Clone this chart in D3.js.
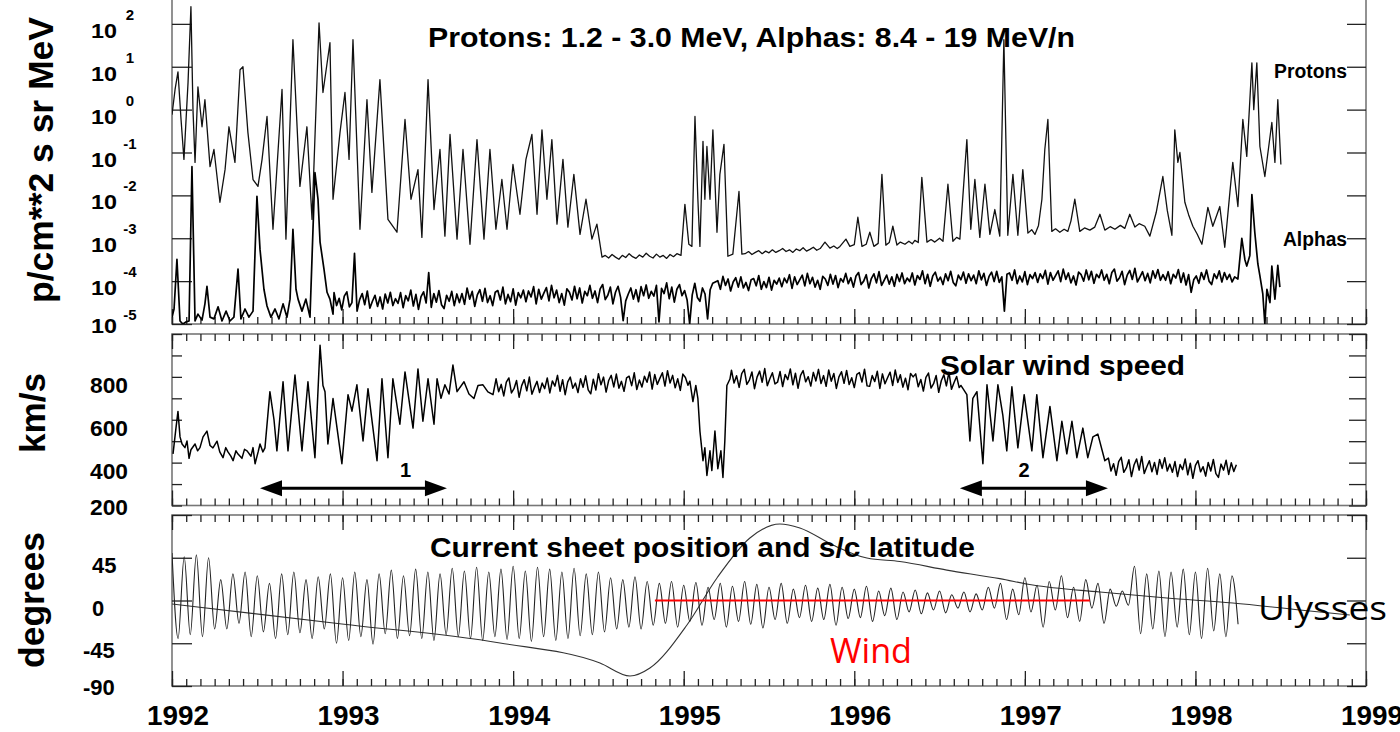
<!DOCTYPE html>
<html><head><meta charset="utf-8">
<script src="https://cdn.jsdelivr.net/npm/d3@7"></script>
<style>html,body{margin:0;padding:0;background:#fff;overflow:hidden}svg{display:block}</style>
</head><body><svg id="c" width="1400" height="732"></svg>
<script>
// ---------------- DATA ----------------
const years = [1992,1993,1994,1995,1996,1997,1998,1999];
const decades = [-5,-4,-3,-2,-1,0,1,2,3];
const decadeLabels = [-5,-4,-3,-2,-1,0,1,2];
const speedTicks = [200,300,400,500,600,700,800,900,1000];
const speedLabels = [200,400,600,800];
const degTicks = [-90,-45,0,45,90];
const degLabels = [-90,-45,0,45];

// Protons 1.2-3.0 MeV: [decimal year, log10 flux]
const protons = [[1992.000,-0.12],[1992.018,0.47],[1992.035,0.88],[1992.053,-0.23],[1992.070,-1.16],[1992.094,0.63],[1992.111,2.40],[1992.123,0.0],[1992.135,-1.23],[1992.152,0.53],[1992.176,-0.40],[1992.193,0.23],[1992.223,-1.33],[1992.246,-0.93],[1992.281,-2.16],[1992.311,-1.40],[1992.334,-0.40],[1992.369,-1.23],[1992.399,0.93],[1992.416,1.0],[1992.445,-0.53],[1992.475,-1.63],[1992.504,-1.79],[1992.528,-1.16],[1992.557,-0.16],[1992.592,-2.79],[1992.645,0.47],[1992.668,-3.02],[1992.709,1.63],[1992.750,-1.79],[1992.791,-0.40],[1992.821,-2.56],[1992.862,2.02],[1992.885,0.40],[1992.926,1.56],[1992.944,-2.09],[1992.985,-0.53],[1993.014,0.40],[1993.038,-1.16],[1993.061,1.63],[1993.102,-2.79],[1993.143,0.23],[1993.172,-1.93],[1993.219,0.70],[1993.266,-2.56],[1993.319,-2.86],[1993.366,-0.23],[1993.401,-2.09],[1993.442,-1.40],[1993.465,-2.98],[1993.501,0.70],[1993.536,-2.33],[1993.571,-0.93],[1993.600,-2.95],[1993.630,-0.58],[1993.671,-3.02],[1993.706,-0.93],[1993.747,-3.14],[1993.788,-0.70],[1993.829,-3.02],[1993.864,-0.93],[1993.899,-2.79],[1993.934,-1.63],[1993.964,-2.79],[1993.999,-1.28],[1994.040,-2.44],[1994.075,-1.16],[1994.110,-0.58],[1994.140,-2.44],[1994.169,-0.47],[1994.198,-2.09],[1994.227,-0.70],[1994.257,-2.67],[1994.292,-1.16],[1994.321,-2.74],[1994.356,-1.51],[1994.392,-2.91],[1994.427,-2.09],[1994.462,-3.02],[1994.491,-2.67],[1994.521,-3.44],
[1994.54,-3.40],[1994.56,-3.46],[1994.58,-3.38],[1994.60,-3.44],[1994.62,-3.49],[1994.64,-3.40],[1994.66,-3.45],[1994.68,-3.36],[1994.70,-3.43],[1994.72,-3.47],[1994.74,-3.39],[1994.76,-3.44],[1994.78,-3.35],[1994.80,-3.42],[1994.82,-3.46],[1994.84,-3.37],[1994.86,-3.44],[1994.88,-3.40],[1994.90,-3.47],[1994.92,-3.38],[1994.94,-3.43],[1994.96,-3.36],[1994.984,-3.40],
[1995.007,-2.21],[1995.030,-3.14],[1995.048,-3.19],[1995.066,-0.16],[1995.083,-2.09],[1995.095,-3.19],[1995.113,-0.74],[1995.124,-2.09],[1995.136,-0.86],[1995.154,-2.09],[1995.171,-0.47],[1995.195,-2.86],[1995.212,-1.51],[1995.236,-0.81],[1995.259,-3.42],[1995.288,-3.37],[1995.324,-1.91],[1995.341,-3.37],
[1995.36,-3.36],[1995.38,-3.31],[1995.40,-3.38],[1995.42,-3.33],[1995.44,-3.29],[1995.46,-3.36],[1995.48,-3.30],[1995.50,-3.34],[1995.52,-3.27],[1995.54,-3.33],[1995.56,-3.29],[1995.58,-3.24],[1995.60,-3.31],[1995.62,-3.27],[1995.64,-3.33],[1995.66,-3.25],[1995.68,-3.29],[1995.70,-3.22],[1995.72,-3.30],[1995.74,-3.26],[1995.76,-3.21],[1995.78,-3.28],[1995.80,-3.24],
[1995.828,-3.09],[1995.857,-3.23],[1995.88,-3.18],[1995.90,-3.24],[1995.916,-3.19],[1995.951,-3.02],[1995.974,-3.19],[1996.00,-3.15],[1996.021,-2.51],[1996.045,-3.19],[1996.07,-3.14],[1996.091,-2.86],[1996.115,-3.19],[1996.14,-3.12],[1996.162,-1.51],[1996.185,-3.16],[1996.205,-3.10],[1996.226,-2.72],[1996.250,-3.16],[1996.27,-3.09],[1996.297,-3.14],[1996.32,-3.07],[1996.34,-3.13],[1996.355,-3.05],[1996.375,-3.10],[1996.396,-1.58],[1996.426,-3.09],[1996.45,-3.03],[1996.472,-3.09],[1996.50,-3.00],[1996.52,-3.07],[1996.549,-1.74],[1996.578,-3.07],[1996.60,-2.98],[1996.619,-3.02],
[1996.660,-0.70],[1996.683,-2.79],[1996.707,-1.63],[1996.736,-2.98],[1996.766,-1.74],[1996.795,-2.91],[1996.824,-2.33],[1996.853,-2.95],[1996.877,1.63],[1996.900,-2.93],[1996.930,-1.51],[1996.959,-2.93],[1996.988,-1.40],[1997.018,-2.88],[1997.04,-2.80],[1997.059,-2.91],[1997.080,-2.70],[1997.100,-2.09],[1997.117,-0.93],[1997.135,-0.23],[1997.158,-2.84],[1997.18,-2.78],[1997.205,-2.86],[1997.23,-2.79],[1997.252,-2.84],[1997.27,-2.60],[1997.293,-2.09],[1997.322,-2.84],[1997.35,-2.76],[1997.381,-2.81],[1997.41,-2.74],[1997.440,-2.44],[1997.469,-2.81],[1997.50,-2.73],[1997.528,-2.79],[1997.56,-2.70],[1997.586,-2.77],[1997.615,-2.44],[1997.645,-2.74],[1997.67,-2.66],[1997.703,-2.72],[1997.733,-2.95],[1997.77,-2.40],[1997.809,-1.56],[1997.835,-2.35],[1997.862,-2.93],[1997.879,-0.47],[1997.897,-1.23],[1997.909,-1.0],[1997.938,-2.16],[1997.96,-2.45],[1997.985,-2.72],[1998.01,-2.90],[1998.038,-3.14],[1998.073,-2.28],[1998.102,-2.72],[1998.143,-2.26],[1998.172,-3.21],[1998.202,-1.93],[1998.219,-1.23],[1998.249,-2.26],[1998.278,-0.23],[1998.301,-1.09],[1998.331,1.09],[1998.342,0.0],[1998.360,1.09],[1998.378,-0.86],[1998.407,-1.56],[1998.448,-0.30],[1998.466,-1.23],[1998.483,0.23],[1998.501,-1.28]];

// Alphas 8.4-19 MeV/n, early part: [decimal year, log10 flux]
const alphaEarly = [[1992.000,-4.84],[1992.012,-4.65],[1992.029,-3.49],[1992.047,-4.93],[1992.064,-5.0],[1992.082,-4.95],[1992.100,-4.93],[1992.117,-1.33],[1992.135,-4.93],[1992.152,-4.77],[1992.176,-4.91],[1992.193,-4.53],[1992.205,-4.12],[1992.223,-4.84],[1992.246,-4.88],[1992.270,-4.60],[1992.293,-4.93],[1992.317,-4.70],[1992.340,-4.93],[1992.363,-4.84],[1992.387,-3.72],[1992.404,-4.88],[1992.428,-4.65],[1992.451,-4.84],[1992.475,-4.70],[1992.498,-2.02],[1992.516,-3.26],[1992.539,-4.19],[1992.557,-4.58],[1992.580,-4.84],[1992.604,-4.65],[1992.627,-4.88],[1992.651,-4.53],[1992.674,-4.84],[1992.692,-4.42],[1992.709,-2.79],[1992.727,-4.19],[1992.739,-4.42],[1992.762,-4.70],[1992.785,-4.42],[1992.809,-4.84],[1992.838,-1.47],[1992.856,-2.09],[1992.868,-3.09],[1992.891,-3.72],[1992.909,-4.26],[1992.926,-4.42],[1992.944,-4.77]];
// Alphas, regularly sampled from 1992.95 every 0.015 yr (log10 flux)
const alphaStart = 1992.95, alphaStep = 0.015;
const alphaBand = [
-4.27,-4.57,-4.40,-4.67,-4.35,-4.25,-4.60,-4.50,-3.35,-4.70,-4.43,-4.29,-4.55,-4.23,-4.63,-4.47,-4.33,-4.59,-4.37,-4.65,-4.30,-4.51,-4.26,-4.57,-4.41,
-4.52,-4.27,-4.62,-4.34,-4.46,-4.21,-4.58,-4.31,-4.66,-4.36,-4.25,-4.51,-3.80,-4.61,-4.29,-4.49,-4.22,-4.55,-4.64,-4.33,-4.47,-4.24,-4.57,-4.30,-4.50,
-4.29,-4.54,-4.16,-4.42,-4.24,-4.59,-4.32,-4.20,-4.47,-4.17,-4.50,-4.34,-4.57,-4.26,-4.22,-4.44,-4.14,-4.53,-4.31,-4.48,-4.18,-4.56,-4.27,-4.39,-4.21,
-4.48,-4.23,-4.37,-4.13,-4.53,-4.19,-4.42,-4.28,-4.15,-4.46,-4.10,-4.39,-4.21,-4.50,-4.29,-4.56,-4.18,-4.26,-4.44,-4.12,-4.41,-4.16,-4.51,-4.24,-4.34,
-4.10,-4.40,-4.23,-4.50,-4.18,-4.08,-4.43,-4.33,-4.14,-4.53,-4.26,-4.12,-4.38,-4.92,-4.46,-4.30,-4.16,-4.42,-4.20,-4.48,-4.13,-4.34,-4.09,-4.40,-4.24,
-4.35,-4.10,-4.95,-4.17,-4.29,-4.04,-4.41,-4.14,-4.49,-4.19,-4.08,-4.34,-4.22,-4.44,-5.00,-4.32,-4.05,-4.38,-4.47,-4.16,-4.30,-4.88,-4.20,-4.05,-4.02,
-3.99,-4.19,-3.89,-4.10,-3.95,-4.23,-4.02,-3.92,-4.14,-3.90,-4.16,-4.03,-4.22,-3.97,-3.94,-4.11,-3.87,-4.19,-4.01,-4.15,-3.91,-4.21,-3.98,-4.07,-3.93,
-4.13,-3.93,-4.04,-3.85,-4.17,-3.90,-4.08,-3.97,-3.86,-4.11,-3.82,-4.06,-3.91,-4.14,-3.98,-4.19,-3.89,-3.95,-4.10,-3.84,-4.07,-3.87,-4.15,-3.94,-4.02,
-3.82,-4.06,-3.92,-4.14,-3.88,-3.80,-4.08,-4.00,-3.85,-4.16,-3.94,-3.83,-4.04,-3.78,-4.10,-3.98,-3.86,-4.07,-3.90,-4.12,-3.84,-4.01,-3.81,-4.06,-3.93,
-4.01,-3.81,-4.09,-3.87,-3.96,-3.76,-4.06,-3.84,-4.12,-3.88,-3.79,-4.00,-3.91,-4.08,-3.83,-3.99,-3.77,-4.03,-4.11,-3.86,-3.97,-3.79,-4.05,-3.83,-3.99,
-3.86,-4.06,-3.76,-3.97,-3.82,-4.10,-3.89,-3.79,-4.01,-3.77,-4.03,-3.90,-4.70,-3.84,-3.81,-3.98,-3.74,-4.06,-3.88,-4.02,-3.78,-4.08,-3.85,-3.94,-3.80,
-4.03,-3.83,-3.94,-3.75,-4.07,-3.80,-3.98,-3.87,-3.76,-4.01,-3.72,-3.96,-3.81,-4.04,-3.88,-4.09,-3.79,-3.85,-4.00,-3.74,-3.97,-3.77,-4.05,-3.84,-3.92,
-3.74,-3.98,-3.84,-4.06,-3.80,-3.72,-4.00,-3.92,-3.77,-4.08,-3.86,-3.75,-3.96,-3.70,-4.02,-3.90,-3.78,-3.99,-3.82,-4.04,-3.76,-3.93,-3.73,-3.98,-3.85,
-3.98,-3.78,-4.06,-3.84,-3.93,-3.73,-4.03,-3.81,-4.09,-3.85,-4.26,-3.97,-3.88,-4.05,-3.80,-3.96,-3.74,-4.00,-4.08,-3.83,-3.94,-3.76,-4.02,-3.80,-3.96,
-3.84,-4.02,-3.90];
// Alphas, 1998 event: [decimal year, log10 flux]
const alphaLate = [[1998.249,-3.95],[1998.272,-3.0],[1998.290,-3.5],[1998.301,-3.65],[1998.319,-3.4],[1998.331,-1.98],[1998.348,-2.86],[1998.366,-3.6],[1998.378,-3.88],[1998.395,-4.3],[1998.407,-5.0],[1998.419,-4.19],[1998.437,-4.5],[1998.448,-3.65],[1998.466,-4.42],[1998.483,-3.63],[1998.495,-4.14]];

// Solar wind speed (km/s)
const swEarly = [[1992.006,441],[1992.023,560],[1992.035,639],[1992.047,520],[1992.059,487],[1992.076,470],[1992.088,501],[1992.100,420],[1992.111,460],[1992.135,487],[1992.150,455],[1992.164,470],[1992.182,520],[1992.205,547],[1992.223,480],[1992.240,469],[1992.264,500],[1992.280,450],[1992.299,423],[1992.315,470],[1992.328,450],[1992.345,430],[1992.358,409],[1992.375,455],[1992.387,440],[1992.410,420],[1992.425,462],[1992.440,455],[1992.463,430],[1992.475,470],[1992.487,395],[1992.505,450],[1992.516,487],[1992.533,450],[1992.545,469],[1992.574,731],[1992.598,600],[1992.615,455],[1992.651,777],[1992.680,455],[1992.721,809],[1992.762,455],[1992.797,777],[1992.838,423],[1992.868,947],[1992.885,760],[1992.897,731],[1992.914,487],[1992.944,699],[1992.996,395],[1993.032,717],[1993.055,640],[1993.084,763],[1993.120,501],[1993.149,745],[1993.202,409],[1993.231,791],[1993.266,423],[1993.295,791],[1993.336,579],[1993.366,823],[1993.413,561],[1993.442,837],[1993.471,593],[1993.501,791],[1993.536,579],[1993.554,791],[1993.577,700],[1993.600,763],[1993.624,720],[1993.647,855],[1993.671,731],[1993.712,777],[1993.741,720],[1993.770,699],[1993.794,760],[1993.823,763],[1993.852,730],[1993.882,717]];
const swPlateauAStart = 1993.90, swPlateauAStep = 0.015;
const swPlateauA = [791,731,765,711,775,795,725,745,783,705,759,787,735,799,719,751,779,727,771,
745,795,725,781,757,807,733,787,717,777,799,747,771,727,791,751,805,739,721,
789,739,815,763,799,729,783,807,753,813,747,779,733,795,803,759,819,741,785,
753,803,775,823,743,811,765,793,819,757,829,771,807,749,791,737,813,797,761];
const swDip = [[1995.036,780],[1995.054,685],[1995.071,760],[1995.083,700],[1995.095,547],[1995.113,409],[1995.124,469],[1995.136,340],[1995.154,455],[1995.165,363],[1995.183,547],[1995.200,372],[1995.218,455],[1995.230,331],[1995.241,501],[1995.253,760],[1995.271,790]];
const swPlateauBStart = 1995.28, swPlateauBStep = 0.015;
const swPlateauB = [831,771,805,751,815,835,765,785,823,745,799,827,775,839,759,791,819,767,
775,825,755,811,787,837,763,817,747,807,829,777,801,757,821,781,835,769,
806,756,832,780,816,746,800,824,770,830,764,796,750,812,820,776,836,758,
756,806,778,826,746,814,768,796,822,760,832,774,810,752,794,740,816,800,
814,754,788,734,798,818,748,768,806,728,782,810,758,822,742,774,802,750];
const swLate = [[1996.625,760],[1996.660,717],[1996.678,501],[1996.695,700],[1996.719,731],[1996.754,395],[1996.778,763],[1996.813,501],[1996.842,763],[1996.871,620],[1996.894,455],[1996.924,754],[1996.959,469],[1996.996,717],[1997.041,455],[1997.070,717],[1997.106,423],[1997.147,662],[1997.188,409],[1997.217,593],[1997.246,441],[1997.276,593],[1997.305,423],[1997.340,561],[1997.369,423],[1997.399,520],[1997.428,533],[1997.469,409]];
const swTailStart = 1997.49, swTailStep = 0.015;
const swTail = [421,361,395,341,405,425,355,375,413,335,389,417,365,429,349,381,409,357,401,345,415,373,423,361,393,
355,405,335,391,367,417,343,397,327,387,409,357,381,337,401,361,415,349,331,393,365,411,345,399,359,
390];

// Current sheet position (deg), successive extremes every 1/28 yr from 1992.0
const csStart = 1992.0, csStep = 1/28;
const currentSheet = [
50,-40,46,-36,48,-38,45,-30,22,-30,28,-24,30,-38,26,-33,18,-40,28,-36,30,-34,22,-40,25,-30,28,-45,
24,-42,30,-38,22,-46,28,-35,32,-40,26,-37,33,-40,30,-42,28,-36,34,-38,31,-40,35,-42,30,-38,33,-41,
36,-40,31,-43,35,-38,33,-42,30,-40,34,-37,28,-36,30,-33,24,-30,22,-28,25,-30,20,-26,18,-24,20,-28,
16,-22,19,-26,14,-20,18,-28,15,-22,20,-25,17,-29,14,-20,18,-24,12,-18,16,-22,13,-20,17,-26,14,-19,
12,-18,15,-22,10,-16,13,-20,9,-12,11,-14,8,-10,10,-13,6,-8,9,-12,7,-10,14,-8,18,-20,12,-15,
24,-12,16,-28,20,-10,26,-18,14,-22,22,-8,18,-24,12,-6,10,-5,36,-35,28,-30,31,-38,30,-28,33,-36,
30,-40,34,-32,28,-38,26,-25];

// Ulysses heliographic latitude (deg)
const ulyssesLat = [[1992.000,-3.7],[1992.996,-24.7],[1993.923,-44.7],[1994.509,-65.8],[1994.685,-79.5],[1994.802,-71.1],[1995.019,-25.8],[1995.195,23.7],[1995.388,65.8],[1995.564,80.5],[1995.681,76.3],[1995.875,58.4],[1996.074,44.7],[1996.267,41.0],[1996.543,32.0],[1996.853,23.0],[1997.047,16.3],[1997.440,8.9],[1997.832,2.6],[1998.219,-2.6],[1998.612,-10.0],[1998.905,-15.3]];
// Wind latitude (deg)
const windLat = [[1994.831,0],[1997.381,0]];

// Recurrent-event intervals marked by arrows [start, end] and label year
const intervals = [[1992.516,1993.612],[1996.619,1997.487]];
const intervalLabels = [["1",1993.37],["2",1996.995]];
const intervalSpeed = 280;

// ---------------- DRAW ----------------
const svg = d3.select("#c");
const BOLD = "'Liberation Sans', Arial, Helvetica, sans-serif";
const REG = "'Open Sans', 'Noto Sans', sans-serif";
const x = d3.scaleLinear().domain([1992,1999]).range([172,1366]);
const yP = d3.scaleLog().domain([1e-5,1e3]).range([324,-19]);
const yV = d3.scaleLinear().domain([200,1000]).range([505.5,334]);
const yD = d3.scaleLinear().domain([-90,90]).range([686,515]);

const expand = (t0, dt, vals) => vals.map((v,i)=>[t0+i*dt, v]);
const months = d3.range(0, 7*12+1).map(i => 1992 + i/12);

const panels = [
  {id:"p1", top:-19, bottom:324},
  {id:"p2", top:334, bottom:505.5},
  {id:"p3", top:515, bottom:686}
];
const defs = svg.append("defs");
panels.forEach(p=>{
  defs.append("clipPath").attr("id","clip-"+p.id).append("rect")
    .attr("x",172).attr("y",p.top).attr("width",1194).attr("height",p.bottom-p.top);
});

// frames
panels.forEach(p=>{
  svg.append("rect").attr("x",172).attr("y",p.top).attr("width",1194).attr("height",p.bottom-p.top)
    .attr("fill","none").attr("stroke","#777").attr("stroke-width",1.6);
});

function styleAxis(g){
  g.select(".domain").remove();
  g.selectAll(".tick line").attr("stroke","#222").attr("stroke-width",1.3);
  g.selectAll(".tick text").remove();
}
// x ticks on every panel edge
panels.forEach(p=>{
  [[p.bottom, d3.axisBottom],[p.top, d3.axisTop]].forEach(([yy, ax])=>{
    svg.append("g").attr("transform",`translate(0,${yy})`)
      .call(ax(x).tickValues(months).tickSize(-7).tickFormat("")).call(styleAxis);
    svg.append("g").attr("transform",`translate(0,${yy})`)
      .call(ax(x).tickValues(years).tickSize(-15).tickFormat("")).call(styleAxis);
  });
});
// y ticks
function yTicks(scale, vals, lenL, lenR){
  svg.append("g").attr("transform","translate(172,0)")
    .call(d3.axisLeft(scale).tickValues(vals).tickSize(-lenL).tickFormat("")).call(styleAxis);
  svg.append("g").attr("transform","translate(1366,0)")
    .call(d3.axisRight(scale).tickValues(vals).tickSize(-lenR).tickFormat("")).call(styleAxis);
}
yTicks(yP, decades.map(d=>Math.pow(10,d)), 20, 19);
yTicks(yV, speedTicks, 10, 17);
yTicks(yD, degTicks, 20, 19);

// ---- panel 1 data
const g1 = svg.append("g").attr("clip-path","url(#clip-p1)");
const lineP = d3.line().x(d=>x(d[0])).y(d=>yP(Math.pow(10,d[1])));
const alphas = alphaEarly.concat(expand(alphaStart, alphaStep, alphaBand), alphaLate);
g1.append("path").datum(alphas).attr("d",lineP).attr("fill","none").attr("stroke","#000").attr("stroke-width",1.7).attr("stroke-linejoin","round");
g1.append("path").datum(protons).attr("d",lineP).attr("fill","none").attr("stroke","#111").attr("stroke-width",1.3).attr("stroke-linejoin","round");

// ---- panel 2 data
const g2 = svg.append("g").attr("clip-path","url(#clip-p2)");
const speed = swEarly.concat(expand(swPlateauAStart, swPlateauAStep, swPlateauA), swDip,
  expand(swPlateauBStart, swPlateauBStep, swPlateauB), swLate, expand(swTailStart, swTailStep, swTail));
g2.append("path").datum(speed).attr("d", d3.line().x(d=>x(d[0])).y(d=>yV(d[1])))
  .attr("fill","none").attr("stroke","#000").attr("stroke-width",1.5).attr("stroke-linejoin","round");

// arrows
intervals.forEach(([a,b])=>{
  const ya = yV(intervalSpeed), x0 = x(a), x1 = x(b), L = 22, h = 8;
  svg.append("line").attr("x1",x0+L-2).attr("x2",x1-L+2).attr("y1",ya).attr("y2",ya)
    .attr("stroke","#000").attr("stroke-width",3);
  svg.append("path").attr("d",`M${x0},${ya}L${x0+L},${ya-h}L${x0+L},${ya+h}Z`).attr("fill","#000");
  svg.append("path").attr("d",`M${x1},${ya}L${x1-L},${ya-h}L${x1-L},${ya+h}Z`).attr("fill","#000");
});
intervalLabels.forEach(([s,t])=>{
  svg.append("text").attr("x",x(t)).attr("y",yV(intervalSpeed)-11).attr("text-anchor","middle")
    .attr("font-family",BOLD).attr("font-weight","bold").attr("font-size",20).text(s);
});

// ---- panel 3 data
const g3 = svg.append("g").attr("clip-path","url(#clip-p3)");
g3.append("path").datum(ulyssesLat).attr("d", d3.line().x(d=>x(d[0])).y(d=>yD(d[1])).curve(d3.curveMonotoneX))
  .attr("fill","none").attr("stroke","#333").attr("stroke-width",1.1);
g3.append("path").datum(expand(csStart, csStep, currentSheet)).attr("d", d3.line().x(d=>x(d[0])).y(d=>yD(d[1])).curve(d3.curveMonotoneX))
  .attr("fill","none").attr("stroke","#222").attr("stroke-width",1.1);
g3.append("path").datum(windLat).attr("d", d3.line().x(d=>x(d[0])).y(d=>yD(d[1])))
  .attr("fill","none").attr("stroke","#ff0000").attr("stroke-width",2);

// ---- tick labels
const tl = (xx, yy, txt, size, anchor, tlen) => {
  const t = svg.append("text").attr("x",xx).attr("y",yy).attr("text-anchor",anchor||"start")
    .attr("font-family",BOLD).attr("font-weight","bold").attr("font-size",size).attr("fill","#000").text(txt);
  if (tlen) t.attr("textLength",tlen).attr("lengthAdjust","spacingAndGlyphs");
  return t;
};
decadeLabels.forEach(d=>{
  const yy = yP(Math.pow(10,d));
  tl(117, yy + (d===-5 ? 9 : 14), "10", 21, "end", 26);
  tl(130, yy - 4, String(d), 15, "middle");
});
speedLabels.forEach(v=>{
  const yy = yV(v);
  tl(128, yy + (v===200 ? 9 : 16), String(v), 22, "end", 38);
});
degLabels.forEach(v=>{
  const yy = yD(v);
  tl(v<0 ? 83 : 92, yy + (v===-90 ? 9 : 15), String(v), 22, "start");
});
years.forEach(yr=>{
  tl(x(yr)+6, 725, String(yr), 27, "middle", 62);
});

// axis titles
const rot = (xx, yy, txt, len) => svg.append("text").attr("transform",`translate(${xx},${yy}) rotate(-90)`)
  .attr("text-anchor","middle").attr("font-family",BOLD).attr("font-weight","bold").attr("font-size",35)
  .attr("textLength",len).attr("lengthAdjust","spacingAndGlyphs").text(txt);
rot(53, 160, "p/cm**2 s sr MeV", 286);
rot(45, 413, "km/s", 80);
rot(44, 600, "degrees", 136);

// panel titles
tl(428, 47, "Protons: 1.2 - 3.0 MeV, Alphas: 8.4 - 19 MeV/n", 28, "start", 647);
tl(940, 375, "Solar wind speed", 28, "start", 245);
tl(430, 557, "Current sheet position and s/c latitude", 28, "start", 545);
tl(1347, 78, "Protons", 20, "end", 73);
tl(1347, 246, "Alphas", 20, "end", 64);

// series labels
svg.append("text").attr("x",830).attr("y",663).attr("font-family",REG).attr("font-size",35)
  .attr("fill","#ff0000").attr("textLength",82).attr("lengthAdjust","spacingAndGlyphs").text("Wind");
svg.append("text").attr("x",1258).attr("y",620).attr("font-family",REG).attr("font-size",33)
  .attr("fill","#000").attr("textLength",129).attr("lengthAdjust","spacingAndGlyphs").text("Ulysses");
</script>
</body></html>
